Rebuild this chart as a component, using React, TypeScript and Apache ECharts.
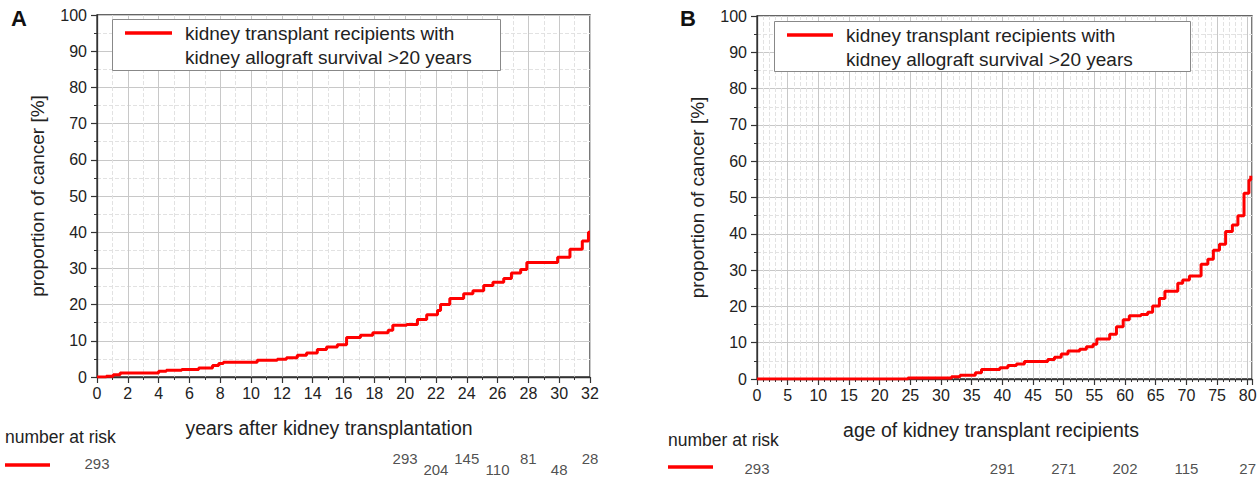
import React, { useEffect, useRef } from "react";
import * as echarts from "echarts";

// Panel A: cumulative proportion of cancer vs years after transplantation
const yearsA = [0, 0.6, 1.05, 1.5, 4, 4.5, 5.5, 6.6, 7.5, 7.9, 8.2, 10.4, 11.7, 12.3, 13.0, 13.6, 14.3, 14.9, 15.6, 16.2, 17.1, 17.9, 18.9, 19.2, 20.1, 20.8, 21.4, 22.1, 22.3, 22.9, 23.8, 24.4, 25.1, 25.7, 26.4, 26.9, 27.5, 27.9, 29.9, 30.7, 31.5, 31.9, 32];
const pctA = [0, 0.2, 0.6, 1.1, 1.6, 1.85, 2.1, 2.5, 3.2, 3.7, 4.1, 4.6, 4.9, 5.3, 6.0, 6.6, 7.6, 8.3, 8.9, 10.9, 11.5, 12.2, 12.9, 14.3, 14.5, 15.9, 17.2, 18.4, 20.0, 21.7, 23.0, 23.8, 25.3, 26.2, 27.2, 28.7, 29.7, 31.6, 33.1, 35.3, 37.6, 40.0, 40.0];

// Panel B: cumulative proportion of cancer vs age of recipients
const agesB = [0, 24.6, 31.7, 33.1, 35.6, 36.6, 39.6, 40.9, 42.3, 43.6, 47.4, 48.5, 49.6, 50.7, 52.6, 53.7, 54.8, 55.4, 57.5, 58.6, 59.7, 60.7, 62.6, 63.7, 64.5, 65.6, 66.5, 68.6, 69.4, 70.5, 72.4, 73.5, 74.4, 75.4, 76.4, 77.5, 78.4, 79.4, 80.2, 80.5];
const pctB = [0, 0.3, 0.6, 1.0, 1.7, 2.6, 3.1, 3.7, 4.1, 4.8, 5.4, 6.0, 6.9, 7.7, 8.2, 8.9, 9.6, 11.0, 12.3, 14.4, 16.3, 17.4, 17.8, 18.4, 20.1, 22.2, 24.2, 26.4, 27.3, 28.4, 31.6, 33.0, 35.5, 37.1, 40.6, 42.4, 45.0, 51.2, 54.8, 56.0];

// Numbers at risk
const riskYearsA = [0, 20, 22, 24, 26, 28, 30, 32];
const riskCountsA = [293, 293, 204, 145, 110, 81, 48, 28];
const riskAgesB = [0, 40, 50, 60, 70, 80];
const riskCountsB = [293, 291, 271, 202, 115, 27];

const legendText = "kidney transplant recipients with\nkidney allograft survival >20 years";
const xNameA = "years after kidney transplantation";
const xNameB = "age of kidney transplant recipients";
const yName = "proportion of cancer [%]";
const riskTitle = "number at risk";

const FONT = "'Liberation Sans', Arial, Helvetica, sans-serif";
const TXT = "#222";
const AX = "#333";
const RED = "#ff0000";

const yAxisBase = (gridIndex: number) => ({
  type: "value",
  gridIndex,
  position: "left",
  min: 0,
  max: 100,
  interval: 10,
  axisLine: { show: true, lineStyle: { color: AX, width: 1.3 } },
  axisTick: { show: true, length: 6, lineStyle: { color: AX, width: 1.2 } },
  minorTick: { show: true, splitNumber: 2, length: 3, lineStyle: { color: AX, width: 1 } },
  axisLabel: { fontSize: 16, color: TXT, margin: 10, fontFamily: FONT },
  splitLine: { show: true, lineStyle: { color: "#c8c8c8", width: 1 } },
  minorSplitLine: { show: true, lineStyle: { color: "#e2e2e2", width: 1, type: "dashed" } },
  name: yName,
  nameLocation: "middle",
  nameGap: 50,
  nameTextStyle: { fontSize: 19, color: TXT, fontFamily: FONT },
});

export default function App() {
  const ref = useRef<HTMLDivElement>(null);
  useEffect(() => {
    if (!ref.current) return;
    const chart = echarts.init(ref.current, undefined, { renderer: "svg" });

    const riskDataA = riskYearsA.map((y, i) => [y, i === 0 ? 0.5 : i % 2 === 1 ? 0 : 1, riskCountsA[i]]);
    const riskDataB = riskAgesB.map((a, i) => [a, 0, riskCountsB[i]]);

    const riskLabel = {
      show: true,
      position: "inside",
      fontSize: 15,
      color: TXT,
      fontFamily: FONT,
      formatter: (p: any) => String(p.value[2]),
    };

    const option: any = {
      animation: false,
      textStyle: { fontFamily: FONT },
      grid: [
        { left: 97, top: 15, width: 493, height: 362, show: true, borderColor: AX, borderWidth: 1.3, outerBoundsMode: "none" },
        { left: 757, top: 16, width: 495, height: 363, show: true, borderColor: AX, borderWidth: 1.3, outerBoundsMode: "none" },
        { left: 97, top: 458, width: 493, height: 11, outerBoundsMode: "none" },
        { left: 757, top: 467, width: 495, height: 1, outerBoundsMode: "none" },
      ],
      xAxis: [
        {
          type: "value",
          gridIndex: 0,
          position: "bottom",
          min: 0,
          max: 32,
          interval: 2,
          axisLine: { show: true, lineStyle: { color: AX, width: 1.3 } },
          axisTick: { show: true, length: 6, lineStyle: { color: AX, width: 1.2 } },
          minorTick: { show: true, splitNumber: 2, length: 3, lineStyle: { color: AX, width: 1 } },
          axisLabel: { fontSize: 16, color: TXT, margin: 8, fontFamily: FONT },
          splitLine: { show: true, lineStyle: { color: "#c8c8c8", width: 1 } },
          minorSplitLine: { show: true, lineStyle: { color: "#e2e2e2", width: 1, type: "dashed" } },
          name: xNameA,
          nameLocation: "middle",
          nameGap: 41,
          nameTextStyle: { fontSize: 19.5, color: TXT, fontFamily: FONT, padding: [0, 29, 0, 0] },
        },
        {
          // minor (1-year) ticks and dotted grid for panel B
          type: "value",
          gridIndex: 1,
          position: "bottom",
          offset: 0,
          min: 0,
          max: 80.7,
          interval: 1,
          axisLine: { show: false },
          axisTick: { show: true, length: 3, lineStyle: { color: AX, width: 1 } },
          axisLabel: { show: false },
          splitLine: { show: true, lineStyle: { color: "#e2e2e2", width: 1, type: "dashed" } },
        },
        {
          type: "value",
          gridIndex: 1,
          position: "bottom",
          offset: 0,
          min: 0,
          max: 80.7,
          interval: 5,
          axisLine: { show: true, lineStyle: { color: AX, width: 1.3 } },
          axisTick: { show: true, length: 6, lineStyle: { color: AX, width: 1.2 } },
          axisLabel: {
            fontSize: 16,
            color: TXT,
            margin: 8,
            fontFamily: FONT,
            formatter: (v: number) => (v % 5 === 0 ? String(v) : ""),
          },
          splitLine: { show: true, lineStyle: { color: "#c8c8c8", width: 1 } },
          name: xNameB,
          nameLocation: "middle",
          nameGap: 41,
          nameTextStyle: { fontSize: 19.5, color: TXT, fontFamily: FONT, padding: [0, 27, 0, 0] },
        },
        { type: "value", gridIndex: 2, position: "bottom", min: 0, max: 32, show: false },
        { type: "value", gridIndex: 3, position: "bottom", min: 0, max: 80.7, show: false },
      ],
      yAxis: [
        yAxisBase(0),
        yAxisBase(1),
        { type: "value", gridIndex: 2, min: 0, max: 1, inverse: true, show: false },
        { type: "value", gridIndex: 3, min: 0, max: 1, show: false },
      ],
      series: [
        {
          type: "line",
          xAxisIndex: 0,
          yAxisIndex: 0,
          step: "end",
          symbol: "none",
          lineStyle: { color: RED, width: 3 },
          data: yearsA.map((x, i) => [x, pctA[i]]),
          z: 5,
        },
        {
          type: "line",
          xAxisIndex: 2,
          yAxisIndex: 1,
          step: "end",
          symbol: "none",
          lineStyle: { color: RED, width: 3 },
          data: agesB.map((x, i) => [x, pctB[i]]),
          z: 5,
        },
        {
          type: "scatter",
          xAxisIndex: 3,
          yAxisIndex: 2,
          symbolSize: 1,
          itemStyle: { color: "rgba(0,0,0,0)" },
          silent: true,
          label: riskLabel,
          data: riskDataA,
        },
        {
          type: "scatter",
          xAxisIndex: 4,
          yAxisIndex: 3,
          symbolSize: 1,
          itemStyle: { color: "rgba(0,0,0,0)" },
          silent: true,
          label: riskLabel,
          data: riskDataB,
        },
      ],
      graphic: [
        { type: "text", x: 11, y: 7, z: 20, style: { text: "A", fontSize: 22, fontWeight: "bold", fill: "#111", fontFamily: FONT } },
        { type: "text", x: 680, y: 7, z: 20, style: { text: "B", fontSize: 22, fontWeight: "bold", fill: "#111", fontFamily: FONT } },
        // legend A
        { type: "rect", z: 20, shape: { x: 112.5, y: 19.5, width: 388, height: 51 }, style: { fill: "#fff", stroke: "#888", lineWidth: 1 } },
        { type: "line", z: 21, shape: { x1: 125, y1: 33, x2: 172, y2: 33 }, style: { stroke: RED, lineWidth: 3.5 } },
        { type: "text", x: 185, y: 21, z: 21, style: { text: legendText, fontSize: 19, lineHeight: 24, fill: TXT, fontFamily: FONT, verticalAlign: "top" } },
        // legend B
        { type: "rect", z: 20, shape: { x: 774.5, y: 21.5, width: 416, height: 50 }, style: { fill: "#fff", stroke: "#888", lineWidth: 1 } },
        { type: "line", z: 21, shape: { x1: 787, y1: 35, x2: 833, y2: 35 }, style: { stroke: RED, lineWidth: 3.5 } },
        { type: "text", x: 846, y: 23, z: 21, style: { text: legendText, fontSize: 19, lineHeight: 24, fill: TXT, fontFamily: FONT, verticalAlign: "top" } },
        // number at risk titles
        { type: "text", x: 5, y: 437, z: 21, style: { text: riskTitle, fontSize: 17.5, fill: TXT, fontFamily: FONT, verticalAlign: "middle" } },
        { type: "line", z: 21, shape: { x1: 5, y1: 465, x2: 50, y2: 465 }, style: { stroke: RED, lineWidth: 3.5 } },
        { type: "text", x: 668, y: 440, z: 21, style: { text: riskTitle, fontSize: 17.5, fill: TXT, fontFamily: FONT, verticalAlign: "middle" } },
        { type: "line", z: 21, shape: { x1: 668, y1: 467, x2: 713, y2: 467 }, style: { stroke: RED, lineWidth: 3.5 } },
      ],
    };
    chart.setOption(option);
    return () => chart.dispose();
  }, []);

  return (
    <div
      ref={ref}
      style={{ position: "fixed", left: 0, top: 0, width: 1260, height: 477, background: "#fff" }}
    />
  );
}
